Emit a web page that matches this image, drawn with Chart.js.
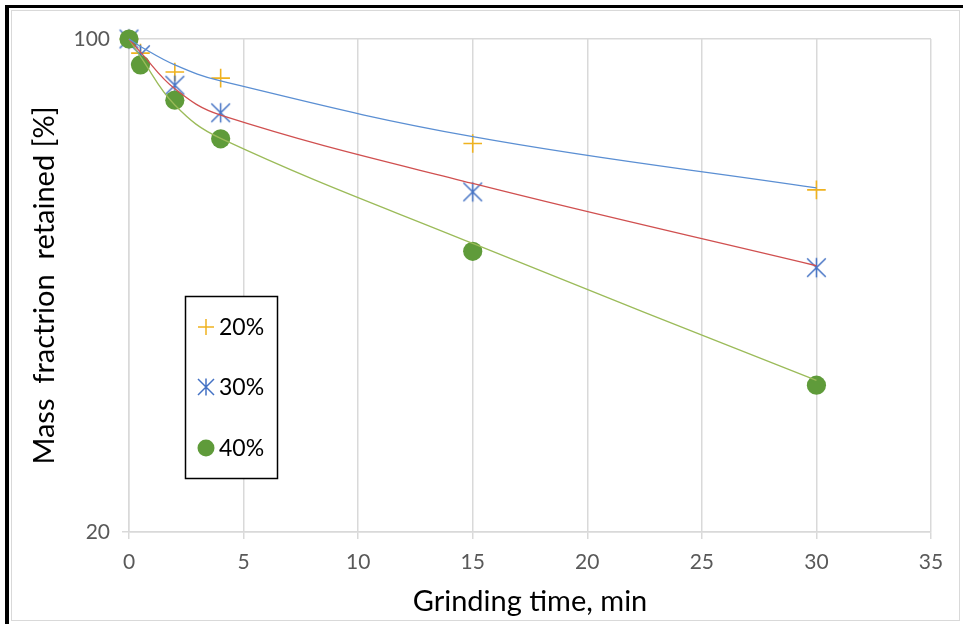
<!DOCTYPE html>
<html>
<head>
<meta charset="utf-8">
<script src="https://cdn.jsdelivr.net/npm/chart.js@4/dist/chart.umd.min.js"></script>
<style>
  html, body { margin: 0; padding: 0; background: #ffffff; }
  #wrap { position: relative; width: 963px; height: 624px; overflow: hidden; }
  canvas { position: absolute; left: 0; top: 0; }
  .b { position: absolute; pointer-events: none; }
</style>
</head>
<body>
<div id="wrap">
  <canvas id="c" width="963" height="624"></canvas>
  <div class="b" style="left:11px;top:10px;width:947px;height:609px;border:1px solid #d9d9d9;"></div>
  <div class="b" style="left:5px;top:5px;width:958px;height:3px;background:#000;"></div>
  <div class="b" style="left:5px;top:5px;width:4px;height:619px;background:#000;"></div>
</div>
<script>
// ---- data ----
const times = [0, 0.5, 2, 4, 15, 30];
const seriesNames = ['20%', '30%', '40%'];
const mass20 = [100, 95.5, 89.8, 88.0, 71.1, 61.1];
const mass30 = [100, 95.0, 86.0, 78.6, 60.7, 47.4];
const mass40 = [100, 91.9, 81.9, 72.2, 50.0, 32.3];
// fitted (smoothed) curves, read at the same times
const fit20 = [100, 97.6, 91.9, 87.2, 72.7, 61.5];
const fit30 = [100, 95.8, 85.0, 78.0, 62.4, 47.7];
const fit40 = [100, 94.4, 80.6, 72.3, 51.3, 32.8];
const xTicks = [0, 5, 10, 15, 20, 25, 30, 35];
const yTicks = [20, 100];

const C_PLUS = '#efb21f';
const C_AST = '#4472c4';
const C_DOT = '#5f9b3a';
const C_FIT20 = '#5b8fd3';
const C_FIT30 = '#d05050';
const C_FIT40 = '#9bbb59';

function makeAsterisk(r, color, lw) {
  const s = Math.ceil(2 * r + 4);
  const cv = document.createElement('canvas');
  cv.width = s; cv.height = s;
  const g = cv.getContext('2d');
  const c = s / 2;
  g.strokeStyle = color; g.lineWidth = lw; g.lineCap = 'butt';
  g.beginPath();
  g.moveTo(c - r, c - r); g.lineTo(c + r, c + r);
  g.moveTo(c + r, c - r); g.lineTo(c - r, c + r);
  g.moveTo(c, c - r - 0.5); g.lineTo(c, c + r + 0.5);
  g.stroke();
  return cv;
}
const astPoint = makeAsterisk(9.3, C_AST, 1.5);
const astLegend = makeAsterisk(8, C_AST, 1.5);

const pts = (xs, ys) => xs.map((x, i) => ({ x: x, y: ys[i] }));

const FONT = 'Lato, "Open Sans", sans-serif';

const legendPlugin = {
  id: 'boxLegend',
  afterDraw(chart) {
    const ctx = chart.ctx;
    ctx.save();
    ctx.fillStyle = '#ffffff';
    ctx.fillRect(185, 296, 93, 182);
    ctx.strokeStyle = '#000000';
    ctx.lineWidth = 1.5;
    ctx.strokeRect(185.5, 296.5, 92, 182);
    const rows = [327, 387, 448];
    // plus
    ctx.strokeStyle = C_PLUS; ctx.lineWidth = 1.5;
    ctx.beginPath();
    ctx.moveTo(198, rows[0]); ctx.lineTo(214, rows[0]);
    ctx.moveTo(206, rows[0] - 8); ctx.lineTo(206, rows[0] + 8);
    ctx.stroke();
    // asterisk
    ctx.drawImage(astLegend, 206 - astLegend.width / 2, rows[1] - astLegend.height / 2);
    // dot
    ctx.fillStyle = C_DOT;
    ctx.beginPath(); ctx.arc(206, rows[2], 8.5, 0, Math.PI * 2); ctx.fill();
    ctx.fillStyle = '#000000';
    ctx.font = '23px ' + FONT;
    ctx.textBaseline = 'middle';
    ctx.textAlign = 'left';
    seriesNames.forEach((n, i) => ctx.fillText(n, 219, rows[i] + 1));
    ctx.restore();
  }
};

new Chart(document.getElementById('c'), {
  type: 'scatter',
  data: {
    datasets: [
      { label: 'fit 20%', data: pts(times, fit20), showLine: true, borderColor: C_FIT20, borderWidth: 1.3, pointRadius: 0, tension: 0.4, fill: false, clip: false },
      { label: 'fit 30%', data: pts(times, fit30), showLine: true, borderColor: C_FIT30, borderWidth: 1.3, pointRadius: 0, tension: 0.4, fill: false, clip: false },
      { label: 'fit 40%', data: pts(times, fit40), showLine: true, borderColor: C_FIT40, borderWidth: 1.3, pointRadius: 0, tension: 0.4, fill: false, clip: false },
      { label: seriesNames[2], data: pts(times, mass40), showLine: false, pointStyle: 'circle', pointRadius: 9.6, backgroundColor: C_DOT, borderColor: C_DOT, pointBorderWidth: 0, clip: false },
      { label: seriesNames[1], data: pts(times, mass30), showLine: false, pointStyle: astPoint, pointRadius: 9.3, clip: false },
      { label: seriesNames[0], data: pts(times, mass20), showLine: false, pointStyle: 'cross', pointRadius: 9.3, borderColor: C_PLUS, pointBorderWidth: 1.6, clip: false }
    ]
  },
  options: {
    responsive: false,
    animation: false,
    devicePixelRatio: 1,
    layout: { padding: { left: 0, right: 32, top: 39, bottom: 0 } },
    plugins: { legend: { display: false }, tooltip: { enabled: false } },
    scales: {
      x: {
        type: 'linear', min: 0, max: 35,
        afterBuildTicks: (s) => { s.ticks = xTicks.map(v => ({ value: v })); },
        afterFit: (s) => { s.height = 92; },
        grid: { color: '#d9d9d9', lineWidth: 1.5, tickLength: 7, drawTicks: true },
        border: { color: '#d9d9d9', width: 1.5 },
        ticks: { color: '#595959', font: { family: FONT, size: 21 }, padding: 11, maxRotation: 0 },
        title: { display: true, text: 'Grinding time, min', color: '#000000', font: { family: FONT, size: 29 }, padding: { top: 0, bottom: 5 } }
      },
      y: {
        type: 'logarithmic', min: 20, max: 100,
        afterBuildTicks: (s) => { s.ticks = yTicks.map(v => ({ value: v })); },
        afterFit: (s) => { s.width = 129; },
        grid: { color: '#d9d9d9', lineWidth: 1.5, tickLength: 7, drawTicks: true },
        border: { color: '#d9d9d9', width: 1.5 },
        ticks: { color: '#595959', font: { family: FONT, size: 21 }, padding: 12, callback: (v) => String(v) },
        title: { display: true, text: 'Mass  fractrion  retained [%]', color: '#000000', font: { family: FONT, size: 29 }, padding: { top: 27, bottom: 0 } }
      }
    }
  },
  plugins: [legendPlugin]
});
</script>
</body>
</html>
